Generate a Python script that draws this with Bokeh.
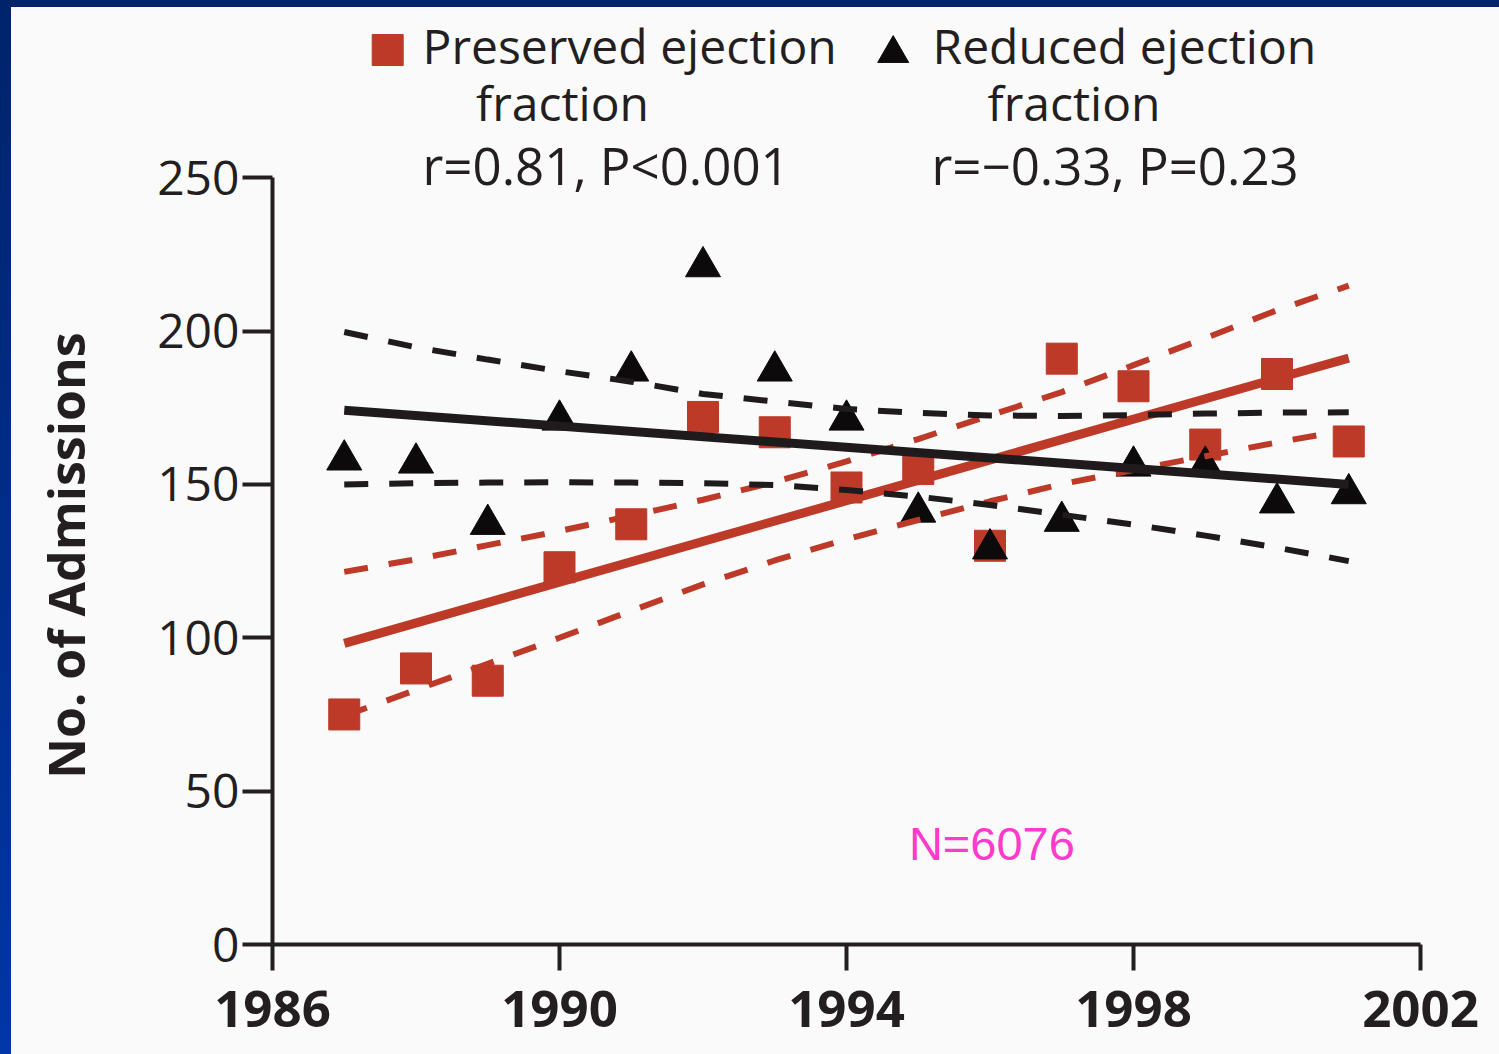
from bokeh.plotting import figure
from bokeh.models import Range1d, FixedTicker, Label, GlobalInlineStyleSheet
from bokeh.embed import file_html
from bokeh.resources import INLINE

# ---------------- data ----------------
years = [1987, 1988, 1989, 1990, 1991, 1992, 1993, 1994, 1995, 1996, 1997, 1998, 1999, 2000, 2001]
preserved = [75, 90, 86, 123, 137, 172, 167, 149, 155, 130, 191, 182, 163, 186, 164]
reduced = [158, 157, 137, 171, 187, 221, 187, 171, 141, 129, 138, 156, 156, 144, 147]

fit_years = [1987, 2001]
preserved_fit = [98.2, 191.2]
reduced_fit = [174.2, 150.0]

preserved_upper = [121.5, 125.6, 130.2, 134.8, 139.8, 145.0, 150.8, 157.5, 164.8, 172.5, 180.1, 188.9, 197.7, 206.8, 214.8]
preserved_lower = [74.5, 83.0, 91.5, 100.0, 108.8, 117.4, 125.2, 132.1, 138.4, 144.5, 150.1, 154.7, 159.2, 163.7, 167.8]
reduced_upper = [199.7, 194.7, 190.7, 186.9, 183.5, 179.5, 177.0, 174.6, 173.3, 172.5, 172.3, 172.6, 173.1, 173.4, 173.5]
reduced_lower = [150.0, 150.4, 150.6, 150.7, 150.6, 150.4, 149.8, 148.2, 146.0, 143.3, 140.1, 136.9, 133.3, 129.4, 125.0]

x_ticks = [1986, 1990, 1994, 1998, 2002]
y_ticks = [0, 50, 100, 150, 200, 250]

legend_pres = ["Preserved ejection", "fraction", "r=0.81, P<0.001"]
legend_red = ["Reduced ejection", "fraction", "r=\u22120.33, P=0.23"]
n_text = "N=6076"
y_title = "No. of Admissions"

# ---------------- styling ----------------
RED = "#bd3a28"
BLACK = "#1f1b1c"
TRI = "#0c0a0a"
TXT = "#231f20"
BG = "#fafafa"
FONT = "Open Sans"

W, H = 1488, 1047
PX_YR = 71.75
PX_UNIT = 3.0672
# page -> data helpers for annotations (page offset: 11px left, 7px top)
def dx(px):
    return 1986 + (px - 272) / PX_YR

def dy(py):
    return (944 - py) / PX_UNIT

# the frame spans the whole canvas; both axes are pinned at (1986, 0)
p = figure(width=W, height=H, title=None,
           x_range=Range1d(dx(11), dx(11 + W)), y_range=Range1d(dy(7 + H), dy(7)),
           output_backend="svg", toolbar_location=None,
           min_border_left=0, min_border_right=0,
           min_border_top=0, min_border_bottom=0)
p.stylesheets = [GlobalInlineStyleSheet(css=(
    "html,body{overflow:hidden;}"
    "body{margin:7px 0 0 11px;background:linear-gradient(180deg,#00246a 0%,#0036a6 100%);}"
))]
p.styles = {"background-color": BG}
p.background_fill_color = BG
p.border_fill_color = BG
p.outline_line_color = None
p.xgrid.visible = False
p.ygrid.visible = False

for ax in (p.xaxis, p.yaxis):
    ax.axis_line_width = 4
    ax.axis_line_color = TXT
    ax.major_tick_line_width = 4
    ax.major_tick_line_color = TXT
    ax.major_tick_in = 0
    ax.minor_tick_line_color = None
    ax.major_label_text_color = TXT
    ax.major_label_text_font = FONT

p.xaxis.ticker = FixedTicker(ticks=x_ticks)
p.xaxis.bounds = (1986, 2002)
p.xaxis.fixed_location = 0
p.xaxis.major_tick_out = 26
p.xaxis.major_label_text_font_size = "51px"
p.xaxis.major_label_text_font_style = "bold"
p.xaxis.major_label_standoff = 20

p.yaxis.ticker = FixedTicker(ticks=y_ticks)
p.yaxis.bounds = (0, 250)
p.yaxis.fixed_location = 1986
p.yaxis.major_tick_out = 30
p.yaxis.major_label_text_font_size = "48px"
p.yaxis.major_label_standoff = 3

# y-axis title (rotated label)
p.add_layout(Label(x=dx(65.5), y=dy(555), text=y_title, angle=90, angle_units="deg",
                   text_font=FONT, text_font_style="bold", text_font_size="50px",
                   text_color=TXT, text_align="center", text_baseline="alphabetic"))

# markers
p.scatter(years, preserved, marker="square", size=31, color=RED)
p.scatter(years, reduced, marker="triangle", size=35, color=TRI)

# regression lines and confidence bands
p.line(years, preserved_upper, line_color=RED, line_width=6, line_dash="24 21")
p.line(years, preserved_lower, line_color=RED, line_width=6, line_dash="24 21")
p.line(fit_years, preserved_fit, line_color=RED, line_width=9)
p.line(years, reduced_upper, line_color=BLACK, line_width=6, line_dash="24 21")
p.line(years, reduced_lower, line_color=BLACK, line_width=6, line_dash="24 21")
p.line(fit_years, reduced_fit, line_color=BLACK, line_width=9)

# legend swatches
p.scatter([dx(387.2)], [dy(49.5)], marker="square", size=31, color=RED)
p.scatter([dx(892.7)], [dy(53.0)], marker="triangle", size=31, color=TRI)

def add_text(txt, px, py, size="48px", font=FONT, color=TXT):
    p.add_layout(Label(x=dx(px), y=dy(py), text=txt, text_font=font,
                       text_font_size=size, text_color=color,
                       text_align="left", text_baseline="alphabetic"))

SH = 21  # label baseline correction
add_text(legend_pres[0], 422, 65.7 - SH)
add_text(legend_pres[1], 475.5, 123.3 - SH)
add_text(legend_pres[2], 422, 185.7 - SH, size="51px")
add_text(legend_red[0], 932, 65.7 - SH)
add_text(legend_red[1], 987, 123.3 - SH)
add_text(legend_red[2], 931, 185.7 - SH, size="51px")
add_text(n_text, 908.4, 863 - 20, size="47px", font="Liberation Sans", color="#ff3acd")

open("out.html", "w").write(file_html(p, INLINE))
